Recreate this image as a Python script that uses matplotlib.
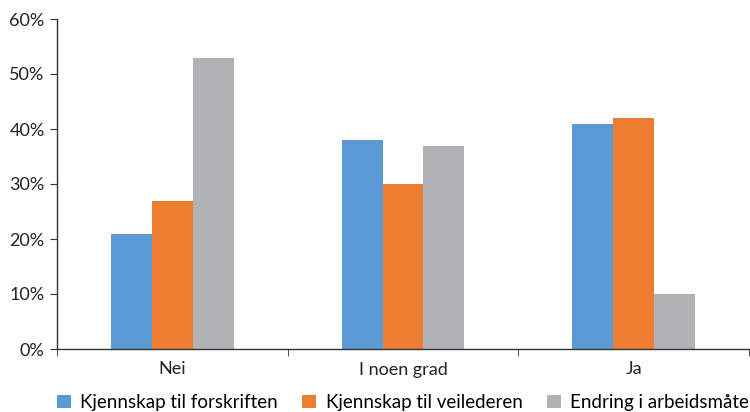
import matplotlib.pyplot as plt
import numpy as np

plt.rcParams['font.family'] = ['Lato', 'DejaVu Sans']

kategorier = ["Nei", "I noen grad", "Ja"]
serier = ["Kjennskap til forskriften", "Kjennskap til veilederen", "Endring i arbeidsmåte"]
forskrift = [21, 38, 41]
veileder = [27, 30, 42]
arbeidsmate = [53, 37, 10]
farger = ["#5B9BD5", "#ED7D31", "#B1B2B6"]

fig = plt.figure(figsize=(7.5, 4.12), dpi=100)
ax = fig.add_axes([57 / 750, 1 - 349 / 412, 692 / 750, 330 / 412])

x = np.arange(len(kategorier))
w = 0.177
for i, (verdier, navn, farge) in enumerate(zip([forskrift, veileder, arbeidsmate], serier, farger)):
    ax.bar(x + (i - 1) * w, verdier, w, color=farge, label=navn)

ax.set_xlim(-0.5, 2.5)
ax.set_ylim(0, 60)
ax.set_yticks(range(0, 61, 10))
ax.set_yticklabels([f"{v}%" for v in range(0, 61, 10)], fontsize=13, color="#222222")
ax.set_xticks(x)
ax.set_xticklabels(kategorier, fontsize=13, color="#222222")
ax.tick_params(axis="x", length=0, pad=9)
ax.set_xticks([-0.5, 0.5, 1.5, 2.5], minor=True)
ax.tick_params(axis="x", which="minor", length=5, color="#333333")
ax.tick_params(axis="y", length=5, color="#333333", pad=4)

for side in ["top", "right"]:
    ax.spines[side].set_visible(False)
for side in ["left", "bottom"]:
    ax.spines[side].set_color("#333333")
    ax.spines[side].set_linewidth(1)

ax.legend(loc="upper center", bbox_to_anchor=(0.5, -0.085), ncol=3, frameon=False,
          fontsize=13.5, handlelength=0.75, handleheight=0.75, handletextpad=0.5,
          columnspacing=1.3)

fig.savefig("out.png", dpi=100)
